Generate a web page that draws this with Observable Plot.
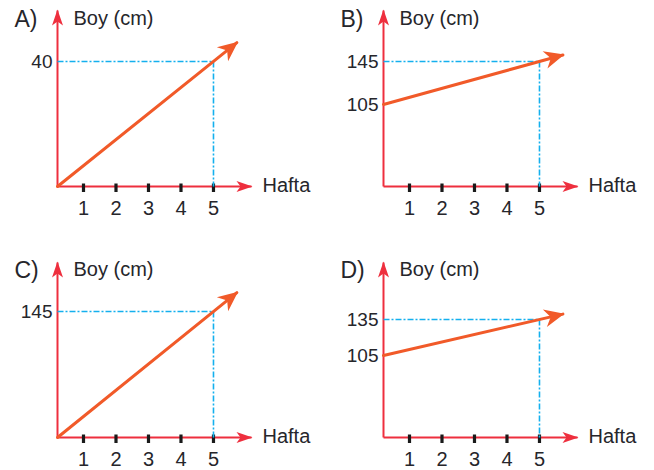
<!DOCTYPE html>
<html><head><meta charset="utf-8">
<script src="https://cdn.jsdelivr.net/npm/d3@7"></script>
<script src="https://cdn.jsdelivr.net/npm/@observablehq/plot@0.6"></script>
<style>
body{margin:0;background:#fff}
#wrap{position:relative;width:654px;height:470px;background:#fff;overflow:hidden}
#wrap > svg{position:absolute}
</style></head><body><div id="wrap"></div>
<script>
// ---- data ----
const panels = ["A)", "B)", "C)", "D)"];
const weeks = [1, 2, 3, 4, 5];
const startHeights = [0, 105, 0, 105];
const week5Heights = [40, 145, 145, 135];
const yTickLabels = [[40], [105, 145], [145], [105, 135]];
const tipWeek = 5.72;
const tipHeights = [46, 151, 166.7, 139.5];
const xAxisLabel = "Hafta";
const yAxisLabel = "Boy (cm)";

// ---- layout (scale extents: value at the axis origin and at the arrow tips) ----
const W = 327, H = 219;
const offsets = [[0, 0], [326, 0], [0, 251], [326, 251]];
const xDomain = [0.2, 6.17], xRange = [57, 251];
const yDomains = [[0, 56.3], [28.7, 192.4], [0, 201.4], [36.7, 182.5]];
const yRanges = [[186, 10], [186, 10], [186, 11], [186, 11]];
const RED = "#ee2f3e", ORANGE = "#f15a29", BLUE = "#14b0ee", TEXT = "#26262b", TICK = "#1a1a1a";
const FONT = "Liberation Sans, Arial, Helvetica, sans-serif";

function head(angleDeg, L, Wd, notch, ahead) {
  const a = angleDeg * Math.PI / 180, c = Math.cos(a), s = Math.sin(a);
  const pts = [[ahead, 0], [ahead - L, -Wd], [ahead - L + notch, 0], [ahead - L, Wd]]
    .map(([x, y]) => [x * c - y * s, x * s + y * c]);
  return {draw(ctx) {
    ctx.moveTo(pts[0][0], pts[0][1]);
    for (let k = 1; k < pts.length; k++) ctx.lineTo(pts[k][0], pts[k][1]);
    ctx.closePath();
  }};
}
const tickSym = {draw(ctx) { ctx.rect(-1.6, -3, 3.2, 8.5); }};

const wrap = document.getElementById("wrap");
panels.forEach((label, i) => {
  const yDomain = yDomains[i], yRange = yRanges[i];
  const x0 = xDomain[0], xEnd = xDomain[1], y0 = yDomain[0], yEnd = yDomain[1];
  const xs = d3.scaleLinear(xDomain, xRange), ys = d3.scaleLinear(yDomain, yRange);
  const ang = Math.atan2(ys(tipHeights[i]) - ys(startHeights[i]), xs(tipWeek) - xs(x0)) * 180 / Math.PI;
  const svg = Plot.plot({
    width: W, height: H, margin: 0,
    x: {domain: xDomain, range: xRange, axis: null},
    y: {domain: yDomain, range: yRange, axis: null},
    style: {fontFamily: FONT, background: "transparent", overflow: "visible"},
    marks: [
      // axes
      Plot.link([{x1: x0, y1: y0, x2: xEnd, y2: y0}, {x1: x0, y1: y0, x2: x0, y2: yEnd}],
        {x1: "x1", y1: "y1", x2: "x2", y2: "y2", stroke: RED, strokeWidth: 2}),
      Plot.dot([{x: xEnd, y: y0}], {x: "x", y: "y", symbol: head(0, 16, 5.5, 4, 1), fill: RED, stroke: "none"}),
      Plot.dot([{x: x0, y: yEnd}], {x: "x", y: "y", symbol: head(-90, 16, 5.5, 4, 1), fill: RED, stroke: "none"}),
      // week ticks
      Plot.dot(weeks.map(w => ({w, h: y0})), {x: "w", y: "h", symbol: tickSym, fill: TICK, stroke: "none"}),
      // guide lines
      Plot.link([
        {x1: x0, y1: week5Heights[i], x2: 5, y2: week5Heights[i]},
        {x1: 5, y1: week5Heights[i], x2: 5, y2: y0}
      ], {x1: "x1", y1: "y1", x2: "x2", y2: "y2", stroke: BLUE, strokeWidth: 1.6, strokeDasharray: "6,2,2,2"}),
      // growth line
      Plot.line([{w: x0, h: startHeights[i]}, {w: tipWeek, h: tipHeights[i]}],
        {x: "w", y: "h", stroke: ORANGE, strokeWidth: 3}),
      Plot.dot([{w: tipWeek, h: tipHeights[i]}], {x: "w", y: "h", symbol: head(ang, 20, 9, 6, 1.5), fill: ORANGE, stroke: "none"}),
      // texts
      Plot.text([label], {frameAnchor: "top-left", dx: 14, dy: 26, text: d => d, fontSize: 23, lineAnchor: "bottom", textAnchor: "start", fill: TEXT, fontFamily: FONT}),
      Plot.text([yAxisLabel], {frameAnchor: "top-left", dx: 73, dy: 24, text: d => d, fontSize: 20, lineAnchor: "bottom", textAnchor: "start", fill: TEXT, fontFamily: FONT}),
      Plot.text([xAxisLabel], {frameAnchor: "top-left", dx: 262, dy: 191, text: d => d, fontSize: 20, lineAnchor: "bottom", textAnchor: "start", fill: TEXT, fontFamily: FONT}),
      Plot.text(weeks.map(w => ({w, h: y0})), {x: "w", y: "h", text: d => String(d.w), dy: 28, fontSize: 20, lineAnchor: "bottom", textAnchor: "middle", fill: TEXT, fontFamily: FONT}),
      Plot.text(yTickLabels[i].map(v => ({x: x0, v})), {x: "x", y: "v", text: d => String(d.v), dx: -5, fontSize: 19, lineAnchor: "middle", textAnchor: "end", fill: TEXT, fontFamily: FONT})
    ]
  });
  svg.style.left = offsets[i][0] + "px";
  svg.style.top = offsets[i][1] + "px";
  wrap.appendChild(svg);
});
</script>
</body></html>
